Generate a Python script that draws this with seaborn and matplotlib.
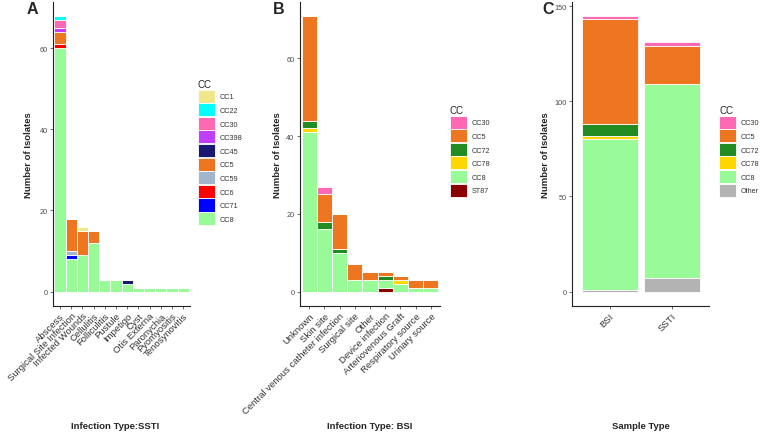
import numpy as np
import pandas as pd
import matplotlib
matplotlib.use("Agg")
import matplotlib.pyplot as plt
from matplotlib.patches import Patch
import seaborn as sns

# ---------------- data ----------------
ssti_types = ["Abscess", "Surgical Site Infection", "Infected Wounds", "Cellulitis",
              "Folliculitis", "Pustule", "Impetigo", "Cyst", "Otis Externa",
              "Paronychia", "Pyomyositis", "Tenosynovitis"]
ssti_cc = ["CC1", "CC22", "CC30", "CC398", "CC45", "CC5", "CC59", "CC6", "CC71", "CC8"]
ssti_CC1 = [0, 0, 1, 0, 0, 0, 0, 0, 0, 0, 0, 0]
ssti_CC22 = [1, 0, 0, 0, 0, 0, 0, 0, 0, 0, 0, 0]
ssti_CC30 = [2, 0, 0, 0, 0, 0, 0, 0, 0, 0, 0, 0]
ssti_CC398 = [1, 0, 0, 0, 0, 0, 0, 0, 0, 0, 0, 0]
ssti_CC45 = [0, 0, 0, 0, 0, 0, 1, 0, 0, 0, 0, 0]
ssti_CC5 = [3, 8, 6, 3, 0, 0, 0, 0, 0, 0, 0, 0]
ssti_CC59 = [0, 1, 0, 0, 0, 0, 0, 0, 0, 0, 0, 0]
ssti_CC6 = [1, 0, 0, 0, 0, 0, 0, 0, 0, 0, 0, 0]
ssti_CC71 = [0, 1, 0, 0, 0, 0, 0, 0, 0, 0, 0, 0]
ssti_CC8 = [60, 8, 9, 12, 3, 3, 2, 1, 1, 1, 1, 1]

bsi_types = ["Unknown", "Skin site", "Central venous catheter infection", "Surgical site",
             "Other", "Device infection", "Arteriovenous Graft", "Respiratory source",
             "Urinary source"]
bsi_cc = ["CC30", "CC5", "CC72", "CC78", "CC8", "ST87"]
bsi_CC30 = [0, 2, 0, 0, 0, 0, 0, 0, 0]
bsi_CC5 = [27, 7, 9, 4, 2, 1, 1, 2, 2]
bsi_CC72 = [2, 2, 1, 0, 0, 1, 0, 0, 0]
bsi_CC78 = [1, 0, 0, 0, 0, 0, 1, 0, 0]
bsi_CC8 = [41, 16, 10, 3, 3, 2, 2, 1, 1]
bsi_ST87 = [0, 0, 0, 0, 0, 1, 0, 0, 0]

sample_types = ["BSI", "SSTI"]
sample_cc = ["CC30", "CC5", "CC72", "CC78", "CC8", "Other"]
sample_CC30 = [2, 2]
sample_CC5 = [55, 20]
sample_CC72 = [6, 0]
sample_CC78 = [2, 0]
sample_CC8 = [79, 102]
sample_Other = [1, 7]

colors = {"CC1": "#F0E68C", "CC22": "#00FFFF", "CC30": "#FF69B4", "CC398": "#BF3EFF",
          "CC45": "#191970", "CC5": "#EE7621", "CC59": "#A2B5CD", "CC6": "#FF0000",
          "CC71": "#0000FF", "CC8": "#98FB98", "CC72": "#228B22", "CC78": "#FFD700",
          "ST87": "#8B0000", "Other": "#B3B3B3"}


def long_df(cats, levels, series):
    rows = []
    for lev, vals in zip(levels, series):
        for c, v in zip(cats, vals):
            if v > 0:
                rows.append((c, lev, v))
    df = pd.DataFrame(rows, columns=["cat", "CC", "n"])
    df["cat"] = pd.Categorical(df["cat"], categories=cats, ordered=True)
    return df


dfA = long_df(ssti_types, ssti_cc,
              [ssti_CC1, ssti_CC22, ssti_CC30, ssti_CC398, ssti_CC45, ssti_CC5,
               ssti_CC59, ssti_CC6, ssti_CC71, ssti_CC8])
dfB = long_df(bsi_types, bsi_cc,
              [bsi_CC30, bsi_CC5, bsi_CC72, bsi_CC78, bsi_CC8, bsi_ST87])
dfC = long_df(sample_types, sample_cc,
              [sample_CC30, sample_CC5, sample_CC72, sample_CC78, sample_CC8, sample_Other])

# ---------------- figure ----------------
sns.set_theme(style="white")
plt.rcParams["font.family"] = ["Liberation Sans", "DejaVu Sans"]

W, H = 760, 435
fig = plt.figure(figsize=(W / 100, H / 100), dpi=100)


def fbox(x0, x1, y0, y1):
    return [x0 / W, 1 - y1 / H, (x1 - x0) / W, (y1 - y0) / H]


panels = [
    dict(df=dfA, cats=ssti_types, levels=ssti_cc, box=fbox(53.3, 190, 2.8, 306.5),
         shrink=1.0, ticks=[0, 20, 40, 60], xlabel="Infection Type:SSTI", xlab_x=0.45,
         letter="A", letter_x=32.5, ylab_x=33, leg=(198, 80)),
    dict(df=dfB, cats=bsi_types, levels=bsi_cc, box=fbox(300, 440, 2.8, 306.5),
         shrink=1.0, ticks=[0, 20, 40, 60], xlabel="Infection Type: BSI", xlab_x=0.5,
         letter="B", letter_x=278.5, ylab_x=281.5, leg=(450, 106)),
    dict(df=dfC, cats=sample_types, levels=sample_cc, box=fbox(572.3, 709, 2.8, 306.5),
         shrink=0.9, ticks=[0, 50, 100, 150], xlabel="Sample Type", xlab_x=0.5,
         letter="C", letter_x=548, ylab_x=550, leg=(719, 106)),
]

for p in panels:
    ax = fig.add_axes(p["box"])
    df = p["df"]
    sns.histplot(data=df, x="cat", weights="n", hue="CC", hue_order=p["levels"],
                 multiple="stack", discrete=True, shrink=p["shrink"],
                 palette=colors, edgecolor="white", linewidth=0.6, alpha=1,
                 legend=False, ax=ax)
    n = len(p["cats"])
    totals = df.groupby("cat", observed=False)["n"].sum()
    ymax = totals.max()
    ax.set_xlim(-0.6, n - 1 + 0.6)
    ax.set_ylim(-0.05 * ymax, 1.05 * ymax)
    ax.set_xticks(range(n))
    ax.set_xticklabels(p["cats"], rotation=45, ha="right", va="top",
                       rotation_mode="anchor", fontsize=6.8, color="#333333")
    ax.set_yticks(p["ticks"])
    ax.set_yticklabels([str(t) for t in p["ticks"]], fontsize=5.3, color="#4D4D4D")
    ax.tick_params(axis="both", length=2.5, width=0.5, color="#333333", pad=1.5,
                   bottom=True, left=True)
    for s in ["top", "right"]:
        ax.spines[s].set_visible(False)
    for s in ["left", "bottom"]:
        ax.spines[s].set_color("#222222")
        ax.spines[s].set_linewidth(0.8)
    ax.set_ylabel("Number of Isolates", fontsize=6.8, fontweight="bold")
    ax.yaxis.set_label_coords((p["ylab_x"] - p["box"][0] * W) / (p["box"][2] * W), 0.5)
    ax.set_xlabel(p["xlabel"], fontsize=6.8, fontweight="bold")
    ax.xaxis.set_label_coords(p["xlab_x"], (306.5 - 427) / 303.7)
    ax.xaxis.label.set_va("center")

    fig.text(p["letter_x"] / W, 1 - 10 / H, p["letter"], fontsize=11.5, fontweight="bold",
             ha="center", va="center")

    handles = [Patch(facecolor=colors[l], edgecolor="white", linewidth=0.6)
               for l in p["levels"]]
    lx, ly = p["leg"]
    leg = fig.legend(handles, p["levels"], loc="upper left",
                     bbox_to_anchor=(lx / W, 1 - ly / H), bbox_transform=fig.transFigure,
                     frameon=False, fontsize=5.2, title="CC", title_fontsize=7,
                     handlelength=2.4, handleheight=2.4, labelspacing=0.08,
                     handletextpad=0.6, borderpad=0, borderaxespad=0, alignment="left")
    for t in leg.get_texts():
        t.set_color("#333333")

fig.savefig("out.png", dpi=100)
